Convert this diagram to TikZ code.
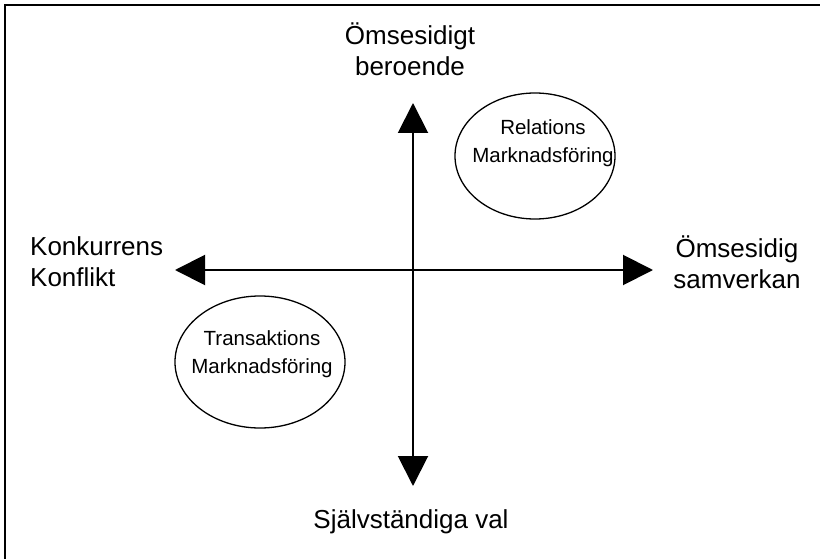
\documentclass[tikz,border=0pt]{standalone}
\usepackage{fontspec}
\setmainfont{Liberation Sans}
\usetikzlibrary{arrows.meta,shapes.geometric}
\tikzset{
  lbl/.style={font=\fontsize{26}{31}\selectfont, inner sep=0pt, align=center},
  inlbl/.style={font=\fontsize{20.5}{28}\selectfont, inner sep=0pt, align=center},
  axis/.style={line width=2pt, -{Triangle[length=30pt,width=30pt]}},
  oval/.style={draw, ellipse, line width=1.3pt, inner sep=0pt},
}
\begin{document}
\begin{tikzpicture}[x=1pt,y=-1pt]
\useasboundingbox (0,0) rectangle (820,559);
\clip (0,0) rectangle (820,559);
\draw[line width=2pt] (5,580) -- (5,5) -- (840,5);
% axes
\coordinate (C) at (413,270);
\coordinate (L) at (175,270);
\coordinate (R) at (653,270);
\coordinate (T) at (413,103);
\coordinate (B) at (413,486);
\draw[axis] (C) -- (L);
\draw[axis] (C) -- (R);
\draw[axis] (C) -- (T);
\draw[axis] (C) -- (B);
% labels
\node[lbl] (top) at (410,49) {Ömsesidigt\\beroende};
\node[lbl, align=left, anchor=west] (left) at (30,262) {Konkurrens\\Konflikt};
\node[lbl] (right) at (737,262) {Ömsesidig\\samverkan};
\node[lbl] (bottom) at (411,522) {Självständiga val};
% ellipses
\node[oval, minimum width=160pt, minimum height=126pt] (rel) at (535,156) {};
\node[inlbl] (reltxt) at (543,143) {Relations\\Marknadsföring};
\node[oval, minimum width=170pt, minimum height=132pt] (tra) at (260,362) {};
\node[inlbl] (tratxt) at (262,354) {Transaktions\\Marknadsföring};
\end{tikzpicture}
\end{document}
